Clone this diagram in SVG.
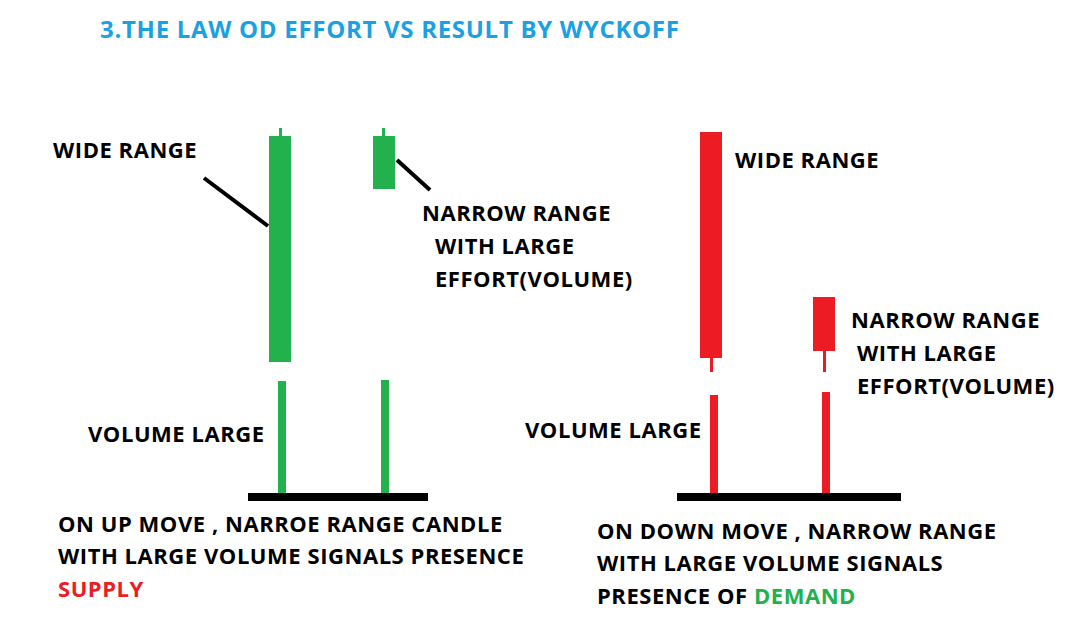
<svg xmlns="http://www.w3.org/2000/svg" width="1083" height="631" viewBox="0 0 1083 631">
<style>
text{font-family:"Open Sans","Liberation Sans",sans-serif;font-weight:bold;font-size:22px;letter-spacing:0.55px;fill:#000}
.t{fill:#1ba1e2;font-size:24px;letter-spacing:0.7px}
.g{fill:#22b14c}.r{fill:#ed1c24}
.rt{fill:#ed1c24}.gt{fill:#22b14c}
.ln{stroke:#000;stroke-width:4}
</style>
<rect width="1083" height="631" fill="#fff"/>
<text class="t" x="100" y="38">3.THE LAW OD EFFORT VS RESULT BY WYCKOFF</text>
<g id="green-wide"><rect class="g" x="279" y="128" width="3" height="8"/><rect class="g" x="269" y="136" width="22" height="226"/></g>
<g id="green-narrow"><rect class="g" x="382" y="128" width="3" height="8"/><rect class="g" x="373" y="136" width="22" height="53"/></g>
<g id="green-vol"><rect class="g" x="278" y="381" width="8" height="116"/><rect class="g" x="381" y="380" width="8" height="117"/><rect x="248" y="493" width="180" height="8"/></g>
<g id="red-wide"><rect class="r" x="700" y="132" width="22" height="226"/><rect class="r" x="710" y="358" width="3" height="14"/></g>
<g id="red-narrow"><rect class="r" x="813" y="297" width="22" height="54"/><rect class="r" x="823" y="351" width="3" height="21"/></g>
<g id="red-vol"><rect class="r" x="710" y="395" width="8" height="102"/><rect class="r" x="822" y="392" width="8" height="105"/><rect x="677" y="493" width="224" height="8"/></g>
<g id="connectors"><line class="ln" x1="204" y1="178" x2="268" y2="226"/><line class="ln" x1="397" y1="160" x2="430" y2="190"/></g>
<g id="labels">
<text x="53" y="158">WIDE RANGE</text>
<text x="422" y="221">NARROW RANGE</text>
<text x="435" y="254">WITH LARGE</text>
<text x="435" y="287">EFFORT(VOLUME)</text>
<text x="88" y="442">VOLUME LARGE</text>
<text x="58" y="532">ON UP MOVE , NARROE RANGE CANDLE</text>
<text x="58" y="564">WITH LARGE VOLUME SIGNALS PRESENCE</text>
<text class="rt" x="58" y="597">SUPPLY</text>
<text x="735" y="168">WIDE RANGE</text>
<text x="851" y="328">NARROW RANGE</text>
<text x="857" y="361">WITH LARGE</text>
<text x="857" y="394">EFFORT(VOLUME)</text>
<text x="525" y="438">VOLUME LARGE</text>
<text x="597" y="539">ON DOWN MOVE , NARROW RANGE</text>
<text x="597" y="571">WITH LARGE VOLUME SIGNALS</text>
<text x="597" y="604">PRESENCE OF <tspan class="gt">DEMAND</tspan></text>
</g>
</svg>
